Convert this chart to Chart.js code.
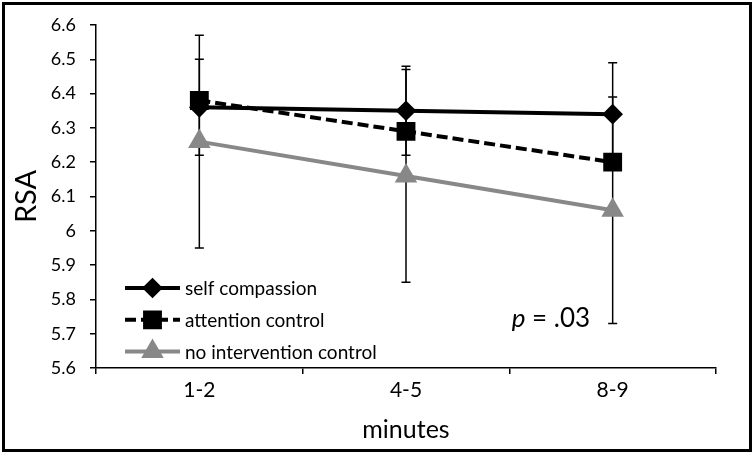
<!DOCTYPE html>
<html>
<head>
<meta charset="utf-8">
<script src="https://cdn.jsdelivr.net/npm/chart.js@4/dist/chart.umd.min.js"></script>
<style>
  html, body { margin: 0; padding: 0; background: #fff; }
  #frame {
    position: absolute; left: 2px; top: 2px;
    width: 744px; height: 444px;
    border: 3px solid #000;
  }
  #chart { display: block; }
</style>
</head>
<body>
<div id="frame"><canvas id="chart" width="744" height="444"></canvas></div>
<script>
const FONT = "Lato, 'Open Sans', sans-serif";

// data
const categories = ["1-2", "4-5", "8-9"];
const seriesNames = ["self compassion", "attention control", "no intervention control"];
const selfCompassion = [6.36, 6.35, 6.34];
const attentionControl = [6.38, 6.29, 6.20];
const noIntervention = [6.26, 6.16, 6.06];
// half-width of the error bars (only these are visible in the figure)
const selfCompassionErr = [0.14, 0.13, 0.15];
const noInterventionErr = [0.31, 0.31, 0.33];
const pLabel = ".03";

const errorBars = {
  id: "errorBars",
  beforeDatasetsDraw(chart) {
    const ctx = chart.ctx;
    const x = chart.scales.x, y = chart.scales.y;
    const sets = [[selfCompassion, selfCompassionErr], [noIntervention, noInterventionErr]];
    ctx.save();
    ctx.strokeStyle = "#000";
    ctx.lineWidth = 1.5;
    sets.forEach(([vals, errs]) => {
      vals.forEach((v, i) => {
        const px = x.getPixelForValue(i);
        const top = y.getPixelForValue(v + errs[i]);
        const bot = y.getPixelForValue(v - errs[i]);
        ctx.beginPath();
        ctx.moveTo(px, top); ctx.lineTo(px, bot);
        ctx.moveTo(px - 4.5, top); ctx.lineTo(px + 4.5, top);
        ctx.moveTo(px - 4.5, bot); ctx.lineTo(px + 4.5, bot);
        ctx.stroke();
      });
    });
    ctx.restore();
  }
};

const innerLegend = {
  id: "innerLegend",
  afterDraw(chart) {
    const ctx = chart.ctx;
    const area = chart.chartArea;
    const x0 = area.left + 29, x1 = x0 + 55;
    ctx.save();
    chart.data.datasets.forEach((ds, i) => {
      const yy = area.bottom - 80 + i * 31.8;
      ctx.strokeStyle = ds.borderColor;
      ctx.lineWidth = ds.borderWidth;
      ctx.setLineDash(ds.borderDash || []);
      ctx.beginPath();
      ctx.moveTo(x0, yy); ctx.lineTo(x1, yy);
      ctx.stroke();
      ctx.setLineDash([]);
      ctx.fillStyle = ds.pointBackgroundColor;
      ctx.strokeStyle = ds.pointBackgroundColor;
      Chart.helpers.drawPoint(ctx, {
        pointStyle: ds.pointStyle, radius: ds.pointRadius, borderWidth: 1
      }, (x0 + x1) / 2, yy);
      ctx.fillStyle = "#000";
      ctx.font = "19px " + FONT;
      ctx.textBaseline = "middle";
      ctx.fillText(ds.label, x1 + 5, yy + 1);
    });
    // p value annotation
    ctx.font = "italic 26px " + FONT;
    ctx.textBaseline = "alphabetic";
    const px = chart.scales.x.getPixelForValue(2) - 101;
    const py = area.bottom - 41;
    ctx.fillText("p", px, py);
    const w = ctx.measureText("p").width;
    ctx.font = "26px " + FONT;
    ctx.fillText(" = " + pLabel, px + w, py);
    ctx.restore();
  }
};

const mkSet = (label, data, opts) => Object.assign({
  label, data,
  borderColor: "#000",
  backgroundColor: "#000",
  pointBackgroundColor: "#000",
  pointBorderColor: "#000",
  borderWidth: 4,
  tension: 0,
  fill: false
}, opts);

new Chart(document.getElementById("chart"), {
  type: "line",
  data: {
    labels: categories,
    datasets: [
      mkSet(seriesNames[0], selfCompassion, { pointStyle: "rectRot", pointRadius: 7.5 }),
      mkSet(seriesNames[1], attentionControl, { pointStyle: "rect", pointRadius: 10.5, borderDash: [11, 5] }),
      mkSet(seriesNames[2], noIntervention, {
        pointStyle: "triangle", pointRadius: 9,
        borderColor: "#888", backgroundColor: "#888",
        pointBackgroundColor: "#888", pointBorderColor: "#888"
      })
    ]
  },
  options: {
    responsive: false,
    animation: false,
    layout: { padding: { top: 20, right: 33, left: 0, bottom: 0 } },
    plugins: {
      legend: { display: false },
      tooltip: { enabled: false }
    },
    scales: {
      x: {
        offset: true,
        grid: { offset: true, drawOnChartArea: false, tickLength: 6, color: "#000", lineWidth: 1.5 },
        border: { color: "#000", width: 1.5 },
        ticks: { color: "#000", font: { family: FONT, size: 21 }, padding: 4 },
        title: { display: true, text: "minutes", color: "#000", font: { family: FONT, size: 25 }, padding: { top: 1 } },
        afterFit: s => { s.height = 81; }
      },
      y: {
        min: 5.6,
        max: 6.6,
        grid: { drawOnChartArea: false, tickLength: 6, color: "#000", lineWidth: 1.5 },
        border: { color: "#000", width: 1.5 },
        ticks: {
          stepSize: 0.1,
          color: "#000",
          font: { family: FONT, size: 18 },
          padding: 14,
          callback: v => String(Number(v.toFixed(1)))
        },
        title: { display: true, text: "RSA", color: "#000", font: { family: FONT, size: 29 }, padding: { bottom: 0 } },
        afterFit: s => { s.width = 91; s.paddingTop = 0; s.paddingBottom = 0; }
      }
    }
  },
  plugins: [errorBars, innerLegend]
});
</script>
</body>
</html>
